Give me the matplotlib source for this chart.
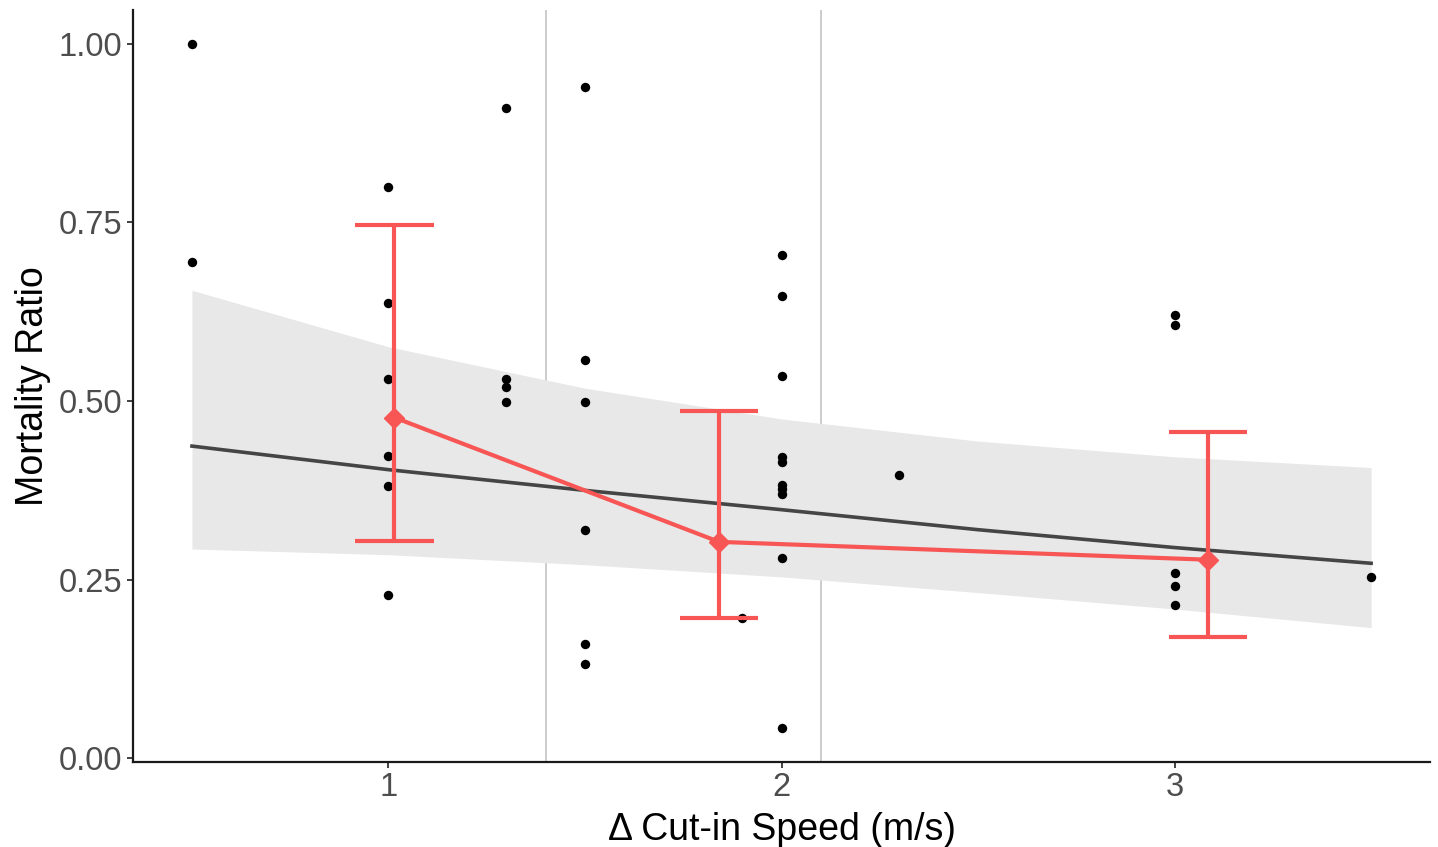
import matplotlib
matplotlib.use("Agg")
import matplotlib.pyplot as plt

plt.rcParams["font.family"] = ["Liberation Sans", "DejaVu Sans"]

# raw observations
obs_x = [0.5, 0.5,
         1, 1, 1, 1, 1, 1,
         1.3, 1.3, 1.3, 1.3,
         1.5, 1.5, 1.5, 1.5, 1.5, 1.5,
         1.9,
         2, 2, 2, 2, 2, 2, 2, 2, 2, 2,
         2.3,
         3, 3, 3, 3, 3,
         3.5]
obs_y = [1.0, 0.695,
         0.800, 0.637, 0.531, 0.423, 0.381, 0.229,
         0.910, 0.531, 0.520, 0.499,
         0.939, 0.558, 0.499, 0.319, 0.160, 0.132,
         0.196,
         0.704, 0.647, 0.535, 0.422, 0.415, 0.383, 0.377, 0.370, 0.280, 0.043,
         0.396,
         0.620, 0.607, 0.260, 0.241, 0.215,
         0.254]

# fitted trend with confidence band
fit_x = [0.5, 1.0, 1.5, 2.0, 2.5, 3.0, 3.5]
fit_y = [0.437, 0.404, 0.375, 0.348, 0.320, 0.295, 0.273]
fit_lo = [0.293, 0.285, 0.271, 0.254, 0.232, 0.209, 0.183]
fit_hi = [0.655, 0.576, 0.518, 0.475, 0.444, 0.422, 0.407]

# binned estimates
bin_x = [1.015, 1.841, 3.085]
bin_y = [0.477, 0.303, 0.278]
bin_lo = [0.304, 0.197, 0.170]
bin_hi = [0.746, 0.486, 0.457]

bin_edges = [1.4, 2.1]

red = "#F85555"
lw_red = 3.0

figure = plt.figure(figsize=(14.38, 8.47), dpi=100)
axes = figure.add_axes([0.0925, 0.1004, 0.902, 0.8876])

for edge in bin_edges:
    axes.axvline(edge, color="#C8C8C8", linewidth=1.3, zorder=1)

axes.fill_between(fit_x, fit_lo, fit_hi, color="#E8E8E8", linewidth=0, zorder=2)
axes.plot(fit_x, fit_y, color="#454545", linewidth=2.6, zorder=3)

axes.scatter(obs_x, obs_y, s=46, color="black", linewidths=0, zorder=4)

yerr = [[m - lo for m, lo in zip(bin_y, bin_lo)],
        [hi - m for m, hi in zip(bin_y, bin_hi)]]
axes.errorbar(bin_x, bin_y, yerr=yerr, fmt="none", ecolor=red,
              elinewidth=lw_red, capsize=0, zorder=5)
for x, lo, hi in zip(bin_x, bin_lo, bin_hi):
    axes.plot([x - 0.1, x + 0.1], [lo, lo], color=red, linewidth=lw_red,
              solid_capstyle="butt", zorder=5)
    axes.plot([x - 0.1, x + 0.1], [hi, hi], color=red, linewidth=lw_red,
              solid_capstyle="butt", zorder=5)
axes.plot(bin_x, bin_y, color=red, linewidth=lw_red, marker="D",
          markersize=10, zorder=6)

axes.set_xlim(0.35, 3.65)
axes.set_ylim(-0.005, 1.047)
axes.set_xticks([1, 2, 3])
axes.set_yticks([0, 0.25, 0.5, 0.75, 1.0])
axes.set_yticklabels(["0.00", "0.25", "0.50", "0.75", "1.00"])

for side in ["top", "right"]:
    axes.spines[side].set_visible(False)
for side in ["left", "bottom"]:
    axes.spines[side].set_color("#1A1A1A")
    axes.spines[side].set_linewidth(1.6)

axes.tick_params(axis="both", length=4, width=1.3, color="#333333",
                 labelcolor="#4D4D4D", labelsize=23.5, pad=3.5)

axes.set_xlabel("\u0394 Cut-in Speed (m/s)", fontsize=27, color="black",
                labelpad=6)
axes.set_ylabel("Mortality Ratio", fontsize=27, color="black", labelpad=6)

figure.savefig("out.png", dpi=100)
